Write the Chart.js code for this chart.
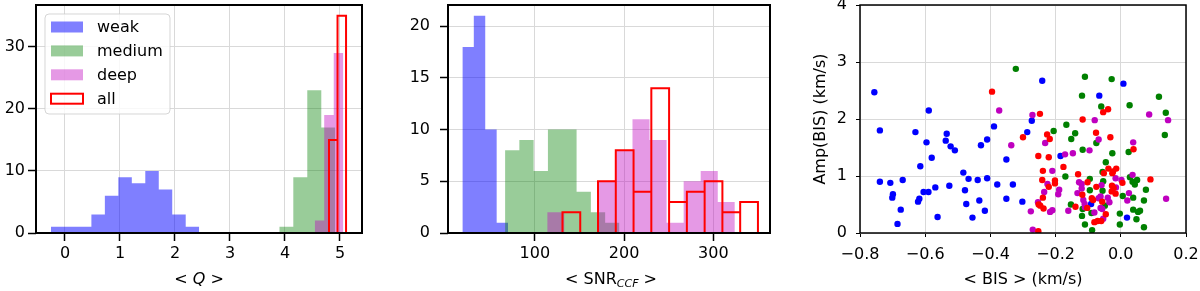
<!DOCTYPE html>
<html>
<head>
<meta charset="utf-8">
<script src="https://cdn.jsdelivr.net/npm/chart.js@4.4.0/dist/chart.umd.min.js"></script>
<style>
  body { margin: 0; background: #fff; }
  #wrap { position: relative; width: 1200px; height: 291px; }
  canvas { position: absolute; top: 0; }
</style>
</head>
<body>
<div id="wrap">
  <canvas id="qChart" width="392" height="291" style="left:0"></canvas>
  <canvas id="snrChart" width="408" height="291" style="left:392px"></canvas>
  <canvas id="bisChart" width="400" height="291" style="left:800px"></canvas>
</div>
<script>
// group names (legend)
const groups = ['weak', 'medium', 'deep', 'all'];

// <Q> histograms: bin edges and counts
const qWeakEdges = [-0.255, -0.01, 0.235, 0.48, 0.725, 0.97, 1.215, 1.46, 1.705, 1.95, 2.195, 2.44];
const qWeakCounts = [1, 1, 1, 3, 6, 9, 8, 10, 7, 3, 1];
const qMediumEdges = [3.896, 4.151, 4.405, 4.66, 4.914];
const qMediumCounts = [1, 9, 23, 17];
const qDeepEdges = [4.54, 4.713, 4.886, 5.06];
const qDeepCounts = [2, 19, 29];
const qAllEdges = [4.80, 4.955, 5.11];
const qAllCounts = [15, 35];

// <SNR_CCF> histograms
const snrWeakEdges = [18.9, 31.7, 44.5, 57.3, 70.1];
const snrWeakCounts = [18, 21, 10, 1];
const snrMediumEdges = [66.7, 82.7, 98.7, 114.7, 130.8, 146.8, 162.8, 178.8, 194.8];
const snrMediumCounts = [8, 9, 6, 10, 10, 4, 2, 1];
const snrDeepEdges = [113.9, 133.0, 152.1, 171.2, 190.3, 209.4, 228.5, 247.6, 266.7, 285.8, 304.9, 324.0];
const snrDeepCounts = [2, 0, 0, 5, 8, 11, 9, 1, 5, 6, 3];
const snrAllEdges = [131.0, 150.9, 170.8, 190.7, 210.6, 230.5, 250.4, 270.3, 290.2, 310.1, 330.0, 349.9];
const snrAllCounts = [2, 0, 5, 8, 4, 14, 3, 4, 5, 2, 3];

// <BIS> vs Amp(BIS) scatter (km/s)
const weakBis = [-0.756, -0.739, -0.739, -0.707, -0.699, -0.701, -0.669, -0.675, -0.685, -0.630, -0.589, -0.596, -0.615, -0.580, -0.605, -0.590, -0.618, -0.622, -0.569, -0.562, -0.534, -0.537, -0.522, -0.509, -0.526, -0.483, -0.478, -0.467, -0.474, -0.439, -0.429, -0.410, -0.434, -0.455, -0.417, -0.410, -0.389, -0.379, -0.351, -0.351, -0.331, -0.302, -0.287, -0.273, -0.241, -0.185, -0.091, -0.066, 0.008, 0.019];
const weakAmp = [2.47, 1.80, 0.90, 0.88, 0.68, 0.62, 0.93, 0.41, 0.16, 1.77, 2.15, 1.59, 1.17, 1.32, 0.72, 0.72, 0.60, 0.55, 0.80, 0.28, 1.74, 1.62, 1.52, 1.45, 0.83, 1.06, 0.75, 0.95, 0.51, 0.93, 1.54, 1.64, 0.57, 0.27, 0.39, 0.96, 1.87, 0.85, 1.29, 0.60, 0.85, 0.55, 1.77, 1.97, 2.67, 1.35, 0.51, 2.41, 2.62, 0.27];
const mediumBis = [-0.322, -0.110, -0.028, -0.119, -0.060, 0.027, 0.117, 0.138, 0.135, -0.206, -0.167, -0.140, -0.152, -0.075, -0.117, -0.026, 0.024, -0.046, -0.056, -0.170, -0.095, -0.054, 0.028, 0.036, 0.050, 0.043, -0.095, -0.056, 0.077, 0.038, 0.006, -0.153, -0.117, -0.119, -0.090, -0.049, -0.003, 0.038, 0.053, 0.059, 0.071, 0.048, -0.003, -0.110, -0.088, 0.071];
const mediumAmp = [2.88, 2.74, 2.70, 2.41, 2.22, 2.24, 2.39, 2.11, 1.72, 1.79, 1.90, 1.75, 1.65, 1.58, 1.46, 1.40, 1.42, 1.24, 1.07, 0.99, 0.95, 0.91, 0.98, 0.90, 0.93, 0.85, 0.75, 0.74, 0.76, 0.62, 0.65, 0.50, 0.42, 0.30, 0.35, 0.48, 0.34, 0.41, 0.37, 0.39, 0.57, 0.24, 0.15, 0.15, 0.05, 0.10];
const deepBis = [-0.373, -0.271, -0.336, -0.232, -0.080, -0.096, -0.068, -0.171, -0.147, -0.210, -0.225, -0.235, -0.189, -0.192, -0.254, -0.276, -0.217, -0.210, -0.161, -0.270, -0.128, -0.120, -0.133, -0.120, -0.115, -0.111, -0.068, -0.062, -0.059, -0.062, -0.057, -0.081, -0.054, -0.035, -0.016, -0.015, 0.002, 0.020, 0.025, 0.038, 0.036, 0.087, 0.145, 0.139, -0.110, -0.040];
const deepAmp = [2.15, 2.07, 1.54, 1.58, 1.98, 1.45, 1.64, 1.38, 1.40, 1.09, 0.86, 0.72, 0.76, 0.68, 0.54, 0.38, 0.37, 0.40, 0.39, 0.06, 0.89, 0.86, 0.70, 0.78, 0.58, 0.51, 0.61, 0.64, 0.84, 0.44, 0.42, 0.36, 0.25, 0.54, 0.96, 0.80, 0.93, 0.57, 0.70, 1.59, 1.02, 2.08, 1.98, 0.60, 0.45, 0.62];
const allBis = [-0.395, -0.248, -0.300, -0.226, -0.218, -0.253, -0.221, -0.239, -0.176, -0.241, -0.202, -0.202, -0.221, -0.239, -0.252, -0.247, -0.237, -0.253, -0.131, -0.117, -0.076, -0.102, -0.075, -0.118, -0.089, -0.085, -0.139, -0.103, -0.081, -0.071, -0.054, -0.039, -0.032, 0.039, -0.038, -0.014, -0.024, -0.052, -0.026, 0.005, 0.091, -0.027, -0.022, -0.028, -0.016, -0.046, -0.057, -0.060];
const allAmp = [2.48, 2.09, 1.68, 1.73, 1.65, 1.35, 1.33, 1.09, 1.16, 0.93, 0.92, 0.87, 0.81, 0.62, 0.50, 0.48, 0.43, 0.03, 1.03, 1.99, 1.76, 0.89, 0.81, 0.67, 0.61, 0.58, 0.46, 0.44, 0.19, 0.21, 2.12, 2.17, 1.68, 1.47, 1.13, 1.13, 1.08, 1.05, 1.05, 0.88, 0.94, 0.83, 0.79, 0.73, 0.69, 0.33, 0.55, 0.21];

// tick values and labels
const qTicks = [0, 1, 2, 3, 4, 5];
const qTickLabels = ['0', '1', '2', '3', '4', '5'];
const qCountTicks = [0, 10, 20, 30];
const qCountLabels = ['0', '10', '20', '30'];
const snrTicks = [100, 200, 300];
const snrTickLabels = ['100', '200', '300'];
const snrCountTicks = [0, 5, 10, 15, 20];
const snrCountLabels = ['0', '5', '10', '15', '20'];
const bisTicks = [-0.8, -0.6, -0.4, -0.2, 0.0, 0.2];
const bisTickLabels = ['\u22120.8', '\u22120.6', '\u22120.4', '\u22120.2', '0.0', '0.2'];
const ampTicks = [0, 1, 2, 3, 4];
const ampTickLabels = ['0', '1', '2', '3', '4'];

// styling
const fills = ['rgba(0,0,255,0.5)', 'rgba(0,128,0,0.4)', 'rgba(191,0,191,0.4)'];
const dots = ['#0000ff', '#008000', '#bf00bf', '#ff0000'];
const FONT = 'DejaVu Sans';

Chart.defaults.font.family = FONT;
Chart.defaults.font.size = 16;
Chart.defaults.color = '#000';

// filled histogram: outline of the bins, value of bin i holds from edge i to edge i+1
function histPoints(edges, counts) {
    const pts = [{ x: edges[0], y: 0 }];
    counts.forEach((c, i) => pts.push({ x: edges[i], y: c }));
    pts.push({ x: edges[edges.length - 1], y: 0 });
    return pts;
}

// open histogram: every non-empty bin drawn as its own rectangle
function barOutlinePoints(edges, counts) {
    const pts = [];
    counts.forEach((c, i) => {
        if (c <= 0) return;
        pts.push({ x: edges[i], y: 0 }, { x: edges[i], y: c }, { x: edges[i + 1], y: 0 });
    });
    return pts;
}

function histDataset(label, edges, counts, i) {
    const isAll = i === 3;
    return {
        label: label,
        data: isAll ? barOutlinePoints(edges, counts) : histPoints(edges, counts),
        stepped: true,
        fill: isAll ? false : 'origin',
        backgroundColor: isAll ? 'rgba(0,0,0,0)' : fills[i],
        borderColor: isAll ? '#ff0000' : 'rgba(0,0,0,0)',
        borderWidth: isAll ? 2 : 1,
        borderJoinStyle: 'miter',
        pointRadius: 0,
        order: 4 - i
    };
}

function axis(min, max, ticks, labels, size, st) {
    return {
        type: 'linear', min: min, max: max, bounds: 'data',
        afterBuildTicks: ax => { ax.ticks = ticks.map(v => ({ value: v })); },
        afterFit: ax => {
            if (ax.isHorizontal()) ax.height = size; else ax.width = size;
            ax.paddingLeft = ax.paddingRight = ax.paddingTop = ax.paddingBottom = 0;
        },
        ticks: { autoSkip: false, maxRotation: 0, padding: st.pad, color: '#000',
                 callback: (v, i) => labels[i] },
        grid: { color: '#d9d9d9', lineWidth: 1, tickLength: st.tl, tickWidth: st.tw, tickColor: '#000' },
        border: { display: false }
    };
}

// draws the black box round the plot area
function frame(lw) {
    return {
        id: 'frame',
        afterDatasetsDraw(chart) {
            const a = chart.chartArea, ctx = chart.ctx;
            ctx.save();
            ctx.strokeStyle = '#000';
            ctx.lineWidth = lw;
            ctx.strokeRect(a.left, a.top, a.right - a.left, a.bottom - a.top);
            ctx.restore();
        }
    };
}

// axis titles with mixed styles: segs = [text, size, italic, dy]
function richText(ctx, cx, y, segs) {
    const f = s => (s[2] ? 'italic ' : '') + s[1] + 'px "' + FONT + '"';
    let w = 0;
    segs.forEach(s => { ctx.font = f(s); w += ctx.measureText(s[0]).width; });
    let x = cx - w / 2;
    ctx.textAlign = 'left';
    ctx.textBaseline = 'alphabetic';
    ctx.fillStyle = '#000';
    segs.forEach(s => {
        ctx.font = f(s);
        ctx.fillText(s[0], x, y + s[3]);
        x += ctx.measureText(s[0]).width;
    });
}

function titles(xSegs, xc, ySegs, yc) {
    return {
        id: 'titles',
        afterDraw(chart) {
            const ctx = chart.ctx;
            ctx.save();
            richText(ctx, xc, 284, xSegs);
            if (ySegs) {
                ctx.translate(yc, 119);
                ctx.rotate(-Math.PI / 2);
                richText(ctx, 0, 5.5, ySegs);
            }
            ctx.restore();
        }
    };
}

// framed legend in the upper left of the first panel
const boxLegend = {
    id: 'boxLegend',
    afterDraw(chart) {
        const ctx = chart.ctx;
        const x0 = 45, y0 = 14, w = 125, h = 100, r = 4;
        ctx.save();
        ctx.beginPath();
        ctx.moveTo(x0 + r, y0);
        ctx.arcTo(x0 + w, y0, x0 + w, y0 + h, r);
        ctx.arcTo(x0 + w, y0 + h, x0, y0 + h, r);
        ctx.arcTo(x0, y0 + h, x0, y0, r);
        ctx.arcTo(x0, y0, x0 + w, y0, r);
        ctx.closePath();
        ctx.fillStyle = 'rgba(255,255,255,0.8)';
        ctx.fill();
        ctx.strokeStyle = 'rgba(204,204,204,0.8)';
        ctx.lineWidth = 1;
        ctx.stroke();
        chart.data.datasets.forEach((ds, i) => {
            const cy = 27 + i * 23.9;
            if (i < 3) {
                ctx.fillStyle = ds.backgroundColor;
                ctx.fillRect(51, cy - 5.5, 32, 11);
            } else {
                ctx.strokeStyle = ds.borderColor;
                ctx.lineWidth = 2;
                ctx.strokeRect(51, cy - 5, 32, 10);
            }
            ctx.fillStyle = '#000';
            ctx.font = '16px "' + FONT + '"';
            ctx.textBaseline = 'middle';
            ctx.textAlign = 'left';
            ctx.fillText(ds.label, 97, cy + 1);
        });
        ctx.restore();
    }
};

const common = {
    responsive: false,
    animation: false,
    devicePixelRatio: 1,
    events: [],
    plugins: { legend: { display: false }, tooltip: { enabled: false } }
};

// panel 1: <Q>
new Chart(document.getElementById('qChart'), {
    type: 'line',
    data: {
        datasets: [
            histDataset(groups[0], qWeakEdges, qWeakCounts, 0),
            histDataset(groups[1], qMediumEdges, qMediumCounts, 1),
            histDataset(groups[2], qDeepEdges, qDeepCounts, 2),
            histDataset(groups[3], qAllEdges, qAllCounts, 3)
        ]
    },
    options: Object.assign({}, common, {
        layout: { padding: { left: 0, right: 30, top: 5, bottom: 0 } },
        scales: {
            x: axis(-0.527, 5.40, qTicks, qTickLabels, 58, { pad: 3, tl: 8, tw: 1.5 }),
            y: axis(0, 36.75, qCountTicks, qCountLabels, 36, { pad: 3, tl: 8, tw: 1.5 })
        }
    }),
    plugins: [frame(2), titles([['< ', 16, false, 0], ['Q', 16, true, 0], [' >', 16, false, 0]], 199), boxLegend]
});

// panel 2: <SNR_CCF>
new Chart(document.getElementById('snrChart'), {
    type: 'line',
    data: {
        datasets: [
            histDataset(groups[0], snrWeakEdges, snrWeakCounts, 0),
            histDataset(groups[1], snrMediumEdges, snrMediumCounts, 1),
            histDataset(groups[2], snrDeepEdges, snrDeepCounts, 2),
            histDataset(groups[3], snrAllEdges, snrAllCounts, 3)
        ]
    },
    options: Object.assign({}, common, {
        layout: { padding: { left: 0, right: 30, top: 5, bottom: 0 } },
        scales: {
            x: axis(2.8, 363.4, snrTicks, snrTickLabels, 58, { pad: 3, tl: 8, tw: 1.5 }),
            y: axis(0, 22.05, snrCountTicks, snrCountLabels, 56, { pad: 10, tl: 8, tw: 1.5 })
        }
    }),
    plugins: [frame(2), titles([['< SNR', 16, false, 0], ['CCF', 11, true, 3], [' >', 16, false, 0]], 219)]
});

// panel 3: <BIS> vs Amp(BIS)
const pairs = (xs, ys) => xs.map((x, i) => ({ x: x, y: ys[i] }));
const scatterSets = [[weakBis, weakAmp], [mediumBis, mediumAmp], [deepBis, deepAmp], [allBis, allAmp]];
new Chart(document.getElementById('bisChart'), {
    type: 'scatter',
    data: {
        datasets: scatterSets.map((s, i) => ({
            label: groups[i],
            data: pairs(s[0], s[1]),
            pointRadius: 3.2,
            pointBackgroundColor: dots[i],
            pointBorderColor: dots[i],
            pointBorderWidth: 0,
            order: 4 - i
        }))
    },
    options: Object.assign({}, common, {
        layout: { padding: { left: 0, right: 14, top: 5, bottom: 0 } },
        scales: {
            x: axis(-0.8, 0.2, bisTicks, bisTickLabels, 58, { pad: 8, tl: 4, tw: 1 }),
            y: axis(0, 4, ampTicks, ampTickLabels, 60, { pad: 9, tl: 4, tw: 1 })
        }
    }),
    plugins: [frame(1.5), titles([['< BIS > (km/s)', 16, false, 0]], 223, [['Amp(BIS) (km/s)', 16, false, 0]], 19)]
});
</script>
</body>
</html>
